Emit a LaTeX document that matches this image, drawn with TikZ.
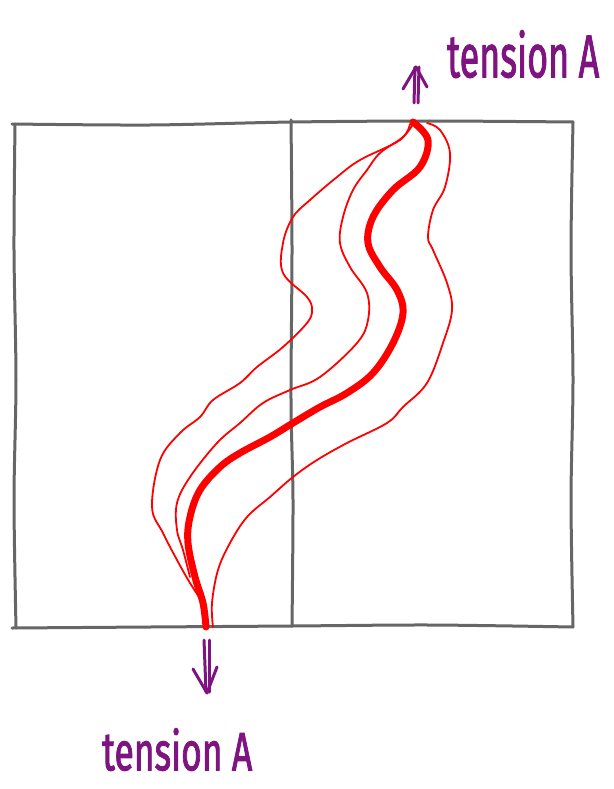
\documentclass[tikz,border=0pt]{standalone}
\usepackage{fontspec}
\newfontfamily\handfont[FakeBold=2]{Fira Sans}
\definecolor{purp}{RGB}{125,20,128}
\begin{document}
\begin{tikzpicture}[x=1pt,y=-1pt,
  gridline/.style={draw=black!60, line width=3pt, line cap=round, line join=round},
  thinred/.style={draw=red, line width=1.8pt, line cap=round, line join=round},
  thickred/.style={draw=red, line width=7pt, line cap=round, line join=round},
  tarrow/.style={draw=purp, line width=3pt, line cap=round, line join=round},
  lbl/.style={text=purp, inner sep=0pt, font=\handfont}]
\useasboundingbox (0,0) rectangle (613,789);
% frame
\draw[gridline] plot[smooth] coordinates {(12,124) (150,125) (292,122) (430,121) (573,122)};
\draw[gridline] plot[smooth] coordinates {(12,628) (150,627) (292,626) (430,625) (573,627)};
\draw[gridline] plot[smooth] coordinates {(15,124) (14,250) (16,380) (14,500) (16,628)};
\draw[gridline] plot[smooth] coordinates {(573,122) (571,250) (573,380) (571,500) (573,627)};
\draw[gridline] plot[smooth] coordinates {(291,120) (292,250) (291,400) (293,500) (292,626)};
% thick curve
\coordinate (top) at (413,122);
\coordinate (bot) at (206,627);
\draw[thickred] plot[smooth, tension=0.6] coordinates {(top) (428,140) (420,167) (393,190) (373,217) (368,243) (380,267) (397,290) (403,313) (393,343) (373,373) (347,393) (320,407) (293,423) (270,437) (240,453) (220,467) (200,490) (190,517) (188,543) (195,577) (203,603) (bot)};
% inner left thin curve
\draw[thinred] plot[smooth, tension=0.6] coordinates {(413,124) (403,137) (380,153) (367,170) (353,190) (343,217) (340,243) (350,267) (367,293) (368,320) (357,343) (320,377) (290,390) (263,403) (240,423) (217,443) (190,477) (177,503) (177,530) (183,550) (190,577)};
% outer left thin curve
\draw[thinred] plot[smooth, tension=0.6] coordinates {(410,124) (400,140) (360,160) (337,177) (310,200) (293,217) (283,243) (283,273) (307,297) (312,310) (307,323) (283,347) (257,367) (240,383) (213,400) (200,417) (180,433) (160,460) (152,507) (163,533) (177,560) (190,583) (203,603)};
% right thin curve
\draw[thinred] plot[smooth, tension=0.6] coordinates {(427,123) (440,130) (450,153) (445,187) (433,210) (428,237) (433,250) (447,283) (452,310) (443,343) (427,383) (403,407) (387,423) (347,443) (317,460) (293,477) (270,497) (247,517) (230,543) (218,570) (212,603) (213,627)};
% top arrow
\coordinate (ta0) at (414,103);
\coordinate (ta1) at (415,67);
\draw[tarrow] (ta0) -- (ta1);
\draw[tarrow] ([xshift=4]ta0) -- ([xshift=4]ta1);
\draw[tarrow] (403,89) -- (416,67) -- (427,87);
\node[lbl, anchor=north west] (tlabel) at (447,30) {\resizebox{152pt}{47pt}{tension A}};
% bottom arrow
\coordinate (ba0) at (204,640);
\coordinate (ba1) at (206,692);
\draw[tarrow] (ba0) -- (ba1);
\draw[tarrow] ([xshift=5]ba0) -- ([xshift=3]ba1);
\draw[tarrow] (193,669) -- (207,693) -- (217,667);
\node[lbl, anchor=north west] (blabel) at (102,728) {\resizebox{150pt}{42pt}{tension A}};
\end{tikzpicture}
\end{document}
